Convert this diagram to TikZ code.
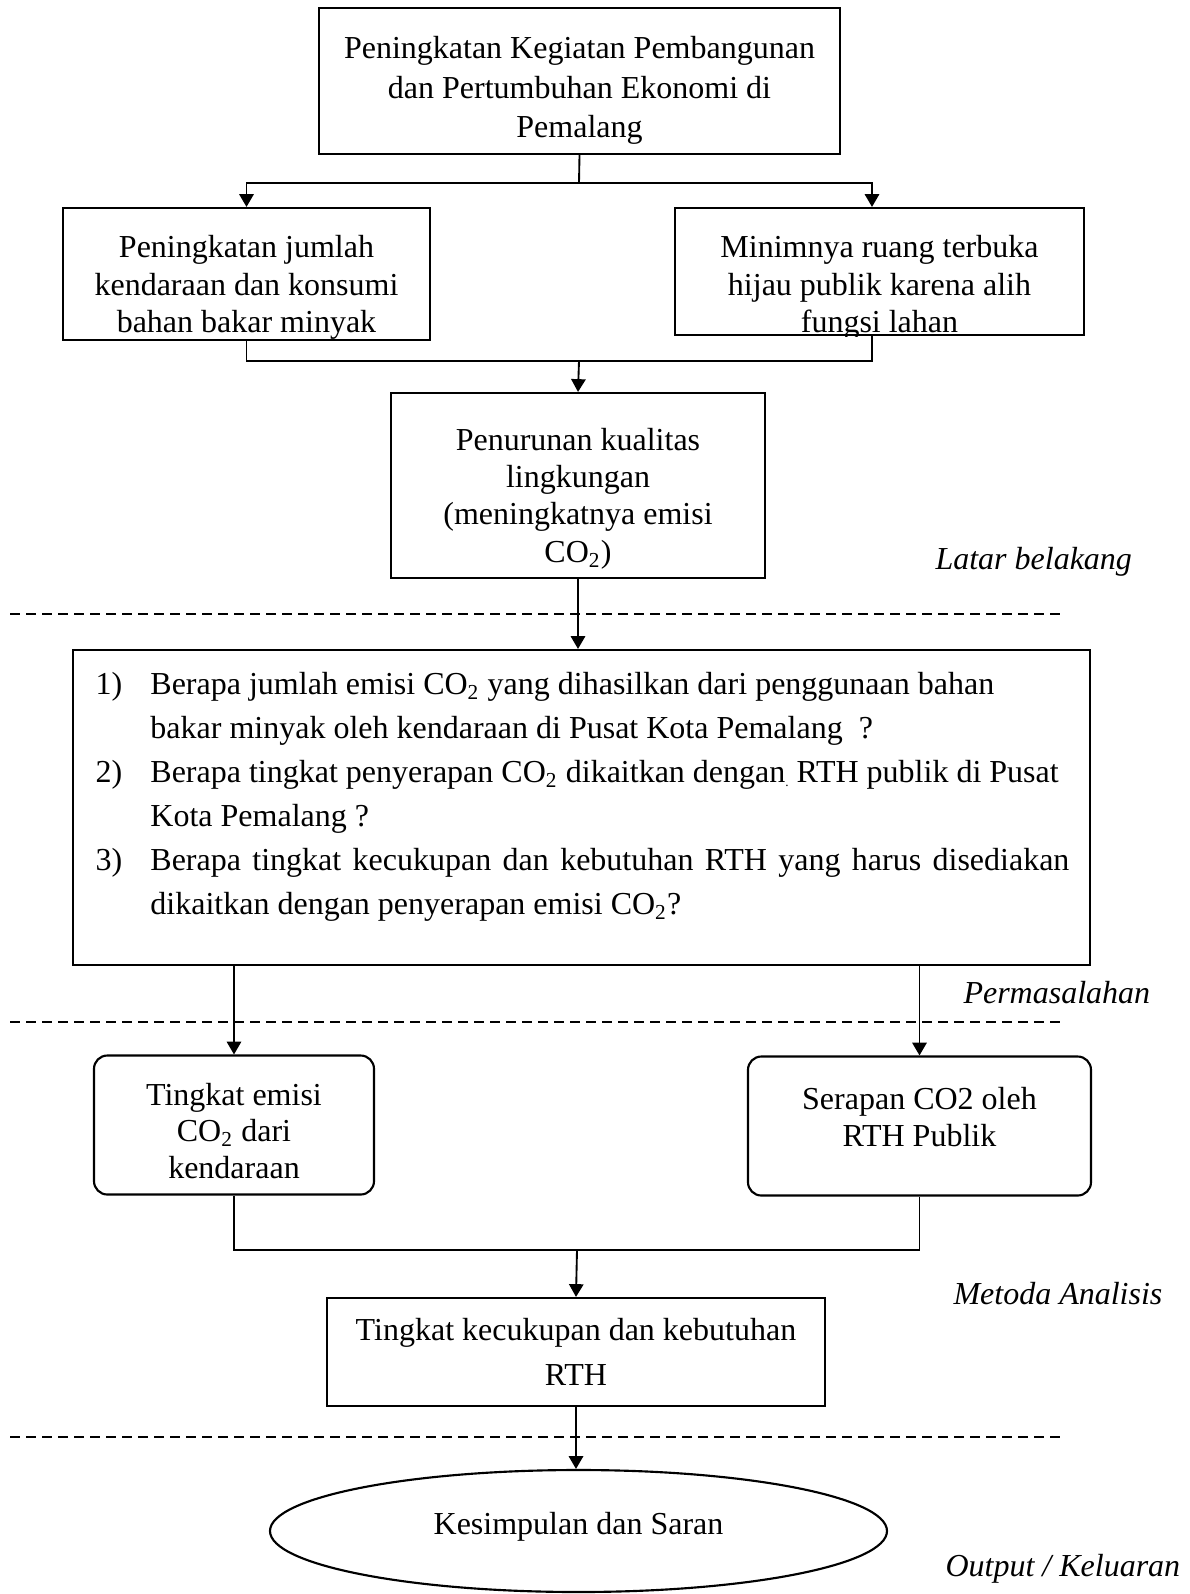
\documentclass[tikz,border=0pt]{standalone}
\usepackage{fontspec}
\setmainfont{Liberation Serif}
\usetikzlibrary{arrows.meta,shapes.geometric}
\newcommand{\px}{0.375pt}
\begin{document}
\begin{tikzpicture}[x=\px,y=-\px,
    teks/.style={align=center,inner sep=0pt,font=\fontsize{12}{14.1}\selectfont},
    kotak/.style={teks,draw,line width=0.8pt},
    bulat/.style={kotak,rounded corners=5pt},
    ket/.style={anchor=west,inner sep=0pt,font=\fontsize{12}{14}\selectfont\itshape},
    putus/.style={line width=0.45pt,dash pattern=on 3.75pt off 2.25pt},
    garis/.style={line width=0.7pt},
    panah/.style={garis,-{Triangle[length=4.8pt,width=5.4pt]}}]
    \useasboundingbox (0,0) rectangle (1190,1594);
    \node[kotak,minimum width=521*\px,minimum height=146*\px] (a) at (579.5,81) {};
    \node[teks,font=\fontsize{12}{14.8}\selectfont] (a1) at (579.5,90.5) {Peningkatan Kegiatan Pembangunan\\dan Pertumbuhan Ekonomi di\\Pemalang};
    \node[kotak,minimum width=367*\px,minimum height=132*\px] (b) at (246.5,274) {};
    \node[kotak,minimum width=409*\px,minimum height=127*\px] (c) at (879.5,271.5) {};
    \begin{scope}
        \clip (b.north west) rectangle (b.south east);
        \node[teks] (b1) at (246.5,287.5) {Peningkatan jumlah\\kendaraan dan konsumi\\bahan bakar minyak};
    \end{scope}
    \begin{scope}
        \clip (c.north west) rectangle (c.south east);
        \node[teks] (c1) at (879.5,287.5) {Minimnya ruang terbuka\\hijau publik karena alih\\fungsi lahan};
    \end{scope}
    \node[kotak,minimum width=374*\px,minimum height=185*\px] (d) at (578,485.5) {};
    \node[teks,font=\fontsize{12}{14}\selectfont] (d1) at (578,498.5) {Penurunan kualitas\\lingkungan\\(meningkatnya emisi\\CO\textsubscript{2})};
    \node[kotak,minimum width=1017*\px,minimum height=315*\px] (e) at (581.5,807.5) {};
    \node[teks,anchor=north west,align=left,font=\fontsize{12}{16.5}\selectfont] (e1) at (95,663) {%
        \begin{tabular}{@{}p{20.6pt}@{}p{344.6pt}@{}}
        1) & Berapa jumlah emisi CO\textsubscript{2} yang dihasilkan dari penggunaan bahan\newline bakar minyak oleh kendaraan di Pusat Kota Pemalang\ \ ?\\
        2) & Berapa tingkat penyerapan CO\textsubscript{2} dikaitkan dengan\raisebox{-1.5pt}{\tiny.} RTH publik di Pusat\newline Kota Pemalang ?\\
        3) & Berapa tingkat kecukupan dan kebutuhan RTH yang harus disediakan\linebreak dikaitkan dengan penyerapan emisi CO\textsubscript{2}?
        \end{tabular}};
    \node[bulat,minimum width=280*\px,minimum height=139*\px] (f) at (234,1125) {};
    \node[teks,font=\fontsize{12}{13.6}\selectfont] (f1) at (234,1131) {Tingkat emisi\\CO\textsubscript{2} dari\\kendaraan};
    \node[bulat,minimum width=343*\px,minimum height=139*\px] (g) at (919.5,1126) {};
    \node[teks] (g1) at (919.5,1117) {Serapan CO2 oleh\\RTH Publik};
    \node[kotak,minimum width=498*\px,minimum height=108*\px,font=\fontsize{12}{17}\selectfont] (h) at (576,1352) {Tingkat kecukupan dan kebutuhan\\RTH};
    \node[kotak,ellipse,minimum width=617*\px,minimum height=122*\px] (i) at (578.5,1531) {};
    \node[teks] (i1) at (578.5,1527) {Kesimpulan dan Saran};
    \node[ket] (k) at (935,562) {Latar belakang};
    \node[ket] (l) at (963,993) {Permasalahan};
    \node[ket] (m) at (953,1294) {Metoda Analisis};
    \node[ket] (n) at (945,1569) {Output / Keluaran};
    \draw[putus] (10,614) -- (1064,614);
    \draw[putus] (10,1022) -- (1064,1022);
    \draw[putus] (10,1437) -- (1064,1437);
    \coordinate (p1) at (579,183);
    \coordinate (p2) at (579,361);
    \coordinate (p3) at (577,1250);
    \coordinate (q) at (872,0);
    \draw[garis] (a.south) -- (p1);
    \draw[panah] (p1) -| (b.north);
    \draw[panah] (p1) -| (c.north -| q);
    \draw[garis] (b.south) |- (p2) -| (c.south -| q);
    \draw[panah] (p2) -- (d.north);
    \draw[panah] (d.south) -- (d.south |- e.north);
    \draw[panah] (e.south -| f.north) -- (f.north);
    \draw[panah] (e.south -| g.north) -- (g.north);
    \draw[garis] (f.south) |- (p3) -| (g.south);
    \draw[panah] (p3) -- (h.north);
    \draw[panah] (h.south) -- (h.south |- i.north);
\end{tikzpicture}
\end{document}
